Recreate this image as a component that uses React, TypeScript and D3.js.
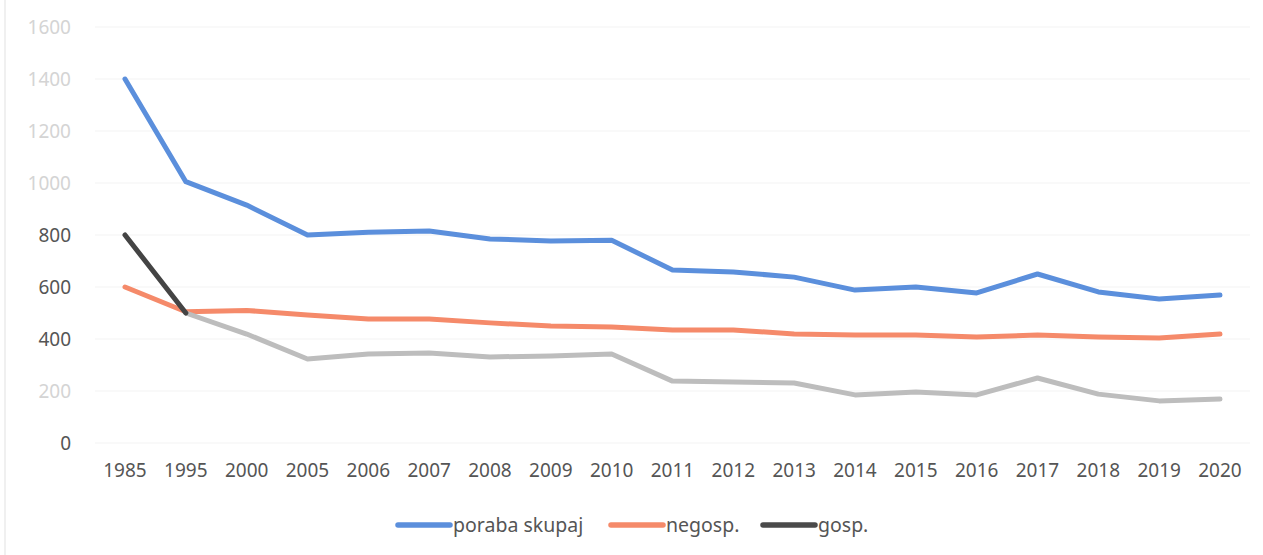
import * as d3 from "d3";

const years = ["1985", "1995", "2000", "2005", "2006", "2007", "2008", "2009", "2010", "2011", "2012", "2013", "2014", "2015", "2016", "2017", "2018", "2019", "2020"];
const porabaSkupaj = [1400, 1005, 915, 800, 811, 815, 785, 777, 780, 665, 658, 638, 588, 600, 577, 650, 581, 554, 569];
const negosp = [600, 505, 510, 492, 477, 477, 462, 450, 446, 435, 435, 419, 415, 415, 408, 415, 408, 404, 419];
const gosp = [800, 500, 419, 323, 342, 346, 331, 335, 342, 238, 235, 231, 185, 196, 185, 250, 188, 162, 169];
const yTicks = [0, 200, 400, 600, 800, 1000, 1200, 1400, 1600];
const fadedTicks = [200, 1000, 1200, 1400, 1600];

const W = 1263;
const H = 555;
const FONT = "'Noto Sans', sans-serif";

export default function App() {
  const x = d3.scalePoint<string>().domain(years).range([125, 1220]);
  const y = d3.scaleLinear().domain([0, 1600]).range([443, 27]);

  const line = d3
    .line<number>()
    .x((_, i) => x(years[i]) ?? 0)
    .y((d) => y(d));

  const gospLine = d3
    .line<[string, number]>()
    .x((d) => x(d[0]) ?? 0)
    .y((d) => y(d[1]));
  const gospPairs: [string, number][] = years.map((yr, i) => [yr, gosp[i]]);

  const legend = [
    { label: "poraba skupaj", color: "#5b8fdc", x: 398 },
    { label: "negosp.", color: "#f58a6a", x: 611 },
    { label: "gosp.", color: "#4a4a4a", x: 763 },
  ];

  return (
    <svg width={W} height={H} style={{ position: "absolute", left: 0, top: 0, background: "#fff" }}>
      <line x1={5} x2={5} y1={0} y2={H} stroke="#f0f0f0" strokeWidth={2} />
      {yTicks.map((t) => (
        <g key={t}>
          <line x1={95} x2={1250} y1={y(t)} y2={y(t)} stroke="#f3f3f3" strokeWidth={1} />
          <text
            x={71}
            y={y(t)}
            dy="0.35em"
            textAnchor="end"
            fontFamily={FONT}
            fontSize={19}
            fill={fadedTicks.includes(t) ? "#d4d4d4" : "#555"}
          >
            {t}
          </text>
        </g>
      ))}
      {years.map((yr) => (
        <text
          key={yr}
          x={x(yr)}
          y={470}
          dy="0.35em"
          textAnchor="middle"
          fontFamily={FONT}
          fontSize={19}
          fill="#555"
        >
          {yr}
        </text>
      ))}
      <path d={line(porabaSkupaj) ?? ""} fill="none" stroke="#5b8fdc" strokeWidth={5} strokeLinejoin="round" strokeLinecap="round" />
      <path d={line(negosp) ?? ""} fill="none" stroke="#f58a6a" strokeWidth={5} strokeLinejoin="round" strokeLinecap="round" />
      <path d={gospLine(gospPairs.slice(1)) ?? ""} fill="none" stroke="#bdbdbd" strokeWidth={5} strokeLinejoin="round" strokeLinecap="round" />
      <path d={gospLine(gospPairs.slice(0, 2)) ?? ""} fill="none" stroke="#444" strokeWidth={5} strokeLinejoin="round" strokeLinecap="round" />
      {legend.map((l) => (
        <g key={l.label}>
          <line x1={l.x} x2={l.x + 52} y1={525} y2={525} stroke={l.color} strokeWidth={5.5} strokeLinecap="round" />
          <text x={l.x + 55} y={525} dy="0.35em" fontFamily={FONT} fontSize={19.5} fill="#555">
            {l.label}
          </text>
        </g>
      ))}
    </svg>
  );
}
